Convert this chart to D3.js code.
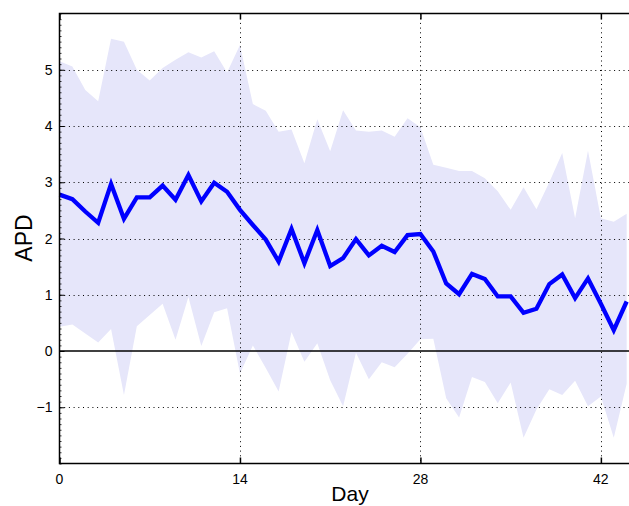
<!DOCTYPE html>
<html>
<head>
<meta charset="utf-8">
<script src="https://cdn.jsdelivr.net/npm/d3@7"></script>
<style>
  body { margin: 0; background: #fff; }
  svg { display: block; }
  text { font-family: "Liberation Sans", Arial, sans-serif; }
</style>
</head>
<body>
<script>
// values, one per day
const days = d3.range(0, 45);
const meanAPD = [2.78, 2.70, 2.48, 2.28, 2.97, 2.35, 2.73, 2.73, 2.94, 2.69,
  3.13, 2.66, 2.99, 2.83, 2.51, 2.24, 1.98, 1.59, 2.17, 1.56,
  2.15, 1.51, 1.65, 1.99, 1.70, 1.87, 1.76, 2.06, 2.08, 1.77,
  1.20, 1.01, 1.37, 1.28, 0.97, 0.97, 0.68, 0.75, 1.19, 1.36,
  0.94, 1.29, 0.84, 0.37, 0.88];
const upperAPD = [5.15, 5.06, 4.64, 4.44, 5.55, 5.50, 5.00, 4.81, 5.03, 5.18,
  5.31, 5.22, 5.33, 4.95, 5.44, 4.39, 4.27, 3.90, 3.94, 3.34,
  4.12, 3.55, 4.28, 3.92, 3.90, 3.92, 3.81, 4.14, 3.98, 3.31,
  3.26, 3.20, 3.20, 3.07, 2.84, 2.51, 2.91, 2.52, 3.00, 3.52,
  2.36, 3.56, 2.36, 2.30, 2.44];
const lowerAPD = [0.43, 0.47, 0.31, 0.15, 0.39, -0.78, 0.44, 0.64, 0.84, 0.20,
  0.96, 0.09, 0.69, 0.76, -0.40, 0.10, -0.30, -0.72, 0.34, -0.19,
  0.14, -0.52, -0.98, -0.03, -0.50, -0.20, -0.29, -0.05, 0.21, 0.22,
  -0.84, -1.18, -0.46, -0.55, -0.93, -0.56, -1.54, -1.04, -0.68, -0.78,
  -0.53, -0.98, -0.81, -1.54, -0.58];
const xTicks = [0, 14, 28, 42];
const yTicks = [-1, 0, 1, 2, 3, 4, 5];

const W = 629, H = 506;
const mLeft = 59.5, mTop = 13.5, mBottom = 463.5;
const pxPerDay = 12.89;

const svg = d3.select("body").append("svg")
  .attr("width", W)
  .attr("height", H);

const x = d3.scaleLinear().domain([0, 45]).range([mLeft, mLeft + 45 * pxPerDay]);
const y = d3.scaleLinear().domain([-2, 6]).range([mBottom, mTop]);
const mRight = x(45);

const plot = svg.append("g");

// band
plot.append("path")
  .datum(days)
  .attr("fill", "#e6e6fa")
  .attr("stroke", "none")
  .attr("d", d3.area()
    .x(d => x(d))
    .y0(d => y(lowerAPD[d]))
    .y1(d => y(upperAPD[d])));

// grid
const dots = "1,3.7";
plot.selectAll("line.vgrid")
  .data(xTicks.filter(d => d > 0))
  .join("line")
  .attr("x1", d => Math.round(x(d)) + 0.5).attr("x2", d => Math.round(x(d)) + 0.5)
  .attr("y1", mTop).attr("y2", mBottom)
  .attr("stroke", "#000").attr("stroke-width", 1)
  .attr("stroke-dasharray", dots);
plot.selectAll("line.hgrid")
  .data(yTicks.filter(d => d !== 0))
  .join("line")
  .attr("x1", mLeft).attr("x2", mRight)
  .attr("y1", d => Math.round(y(d)) + 0.5).attr("y2", d => Math.round(y(d)) + 0.5)
  .attr("stroke", "#000").attr("stroke-width", 1)
  .attr("stroke-dasharray", dots);

// zero line
plot.append("line")
  .attr("x1", mLeft).attr("x2", mRight)
  .attr("y1", y(0)).attr("y2", y(0))
  .attr("stroke", "#000").attr("stroke-width", 1.5);

// mean line
plot.append("path")
  .datum(days)
  .attr("fill", "none")
  .attr("stroke", "#0000ff")
  .attr("stroke-width", 4.3)
  .attr("stroke-linejoin", "miter")
  .attr("d", d3.line().x(d => x(d)).y(d => y(meanAPD[d])));

// frame
svg.append("rect")
  .attr("x", mLeft).attr("y", mTop)
  .attr("width", mRight - mLeft).attr("height", mBottom - mTop)
  .attr("fill", "none").attr("stroke", "#000").attr("stroke-width", 1.5);

// y axis ticks (inward)
const yAxis = svg.append("g")
  .attr("transform", `translate(${mLeft},0)`)
  .call(d3.axisRight(y).tickValues(yTicks).tickSize(5).tickFormat(""));
yAxis.select(".domain").remove();
yAxis.selectAll("line").attr("stroke", "#000");
// minor ticks
const yMinor = svg.append("g")
  .attr("transform", `translate(${mLeft},0)`)
  .call(d3.axisRight(y).tickValues(d3.range(-20, 61).map(d => d / 10)).tickSize(2).tickFormat(""));
yMinor.select(".domain").remove();
yMinor.selectAll("line").attr("stroke", "#000").attr("stroke-width", 0.8);

svg.append("g").selectAll("text")
  .data(yTicks)
  .join("text")
  .attr("x", mLeft - 7)
  .attr("y", d => y(d))
  .attr("dy", "0.36em")
  .attr("text-anchor", "end")
  .attr("font-size", 14)
  .text(d => d < 0 ? "\u2212" + Math.abs(d) : d);

// x axis ticks (inward, top and bottom)
const xAxisB = svg.append("g")
  .attr("transform", `translate(0,${mBottom})`)
  .call(d3.axisTop(x).tickValues(xTicks).tickSize(6).tickFormat(""));
xAxisB.select(".domain").remove();
xAxisB.selectAll("line").attr("stroke", "#000").attr("stroke-width", 1.5);
const xAxisT = svg.append("g")
  .attr("transform", `translate(0,${mTop})`)
  .call(d3.axisBottom(x).tickValues(xTicks).tickSize(6).tickFormat(""));
xAxisT.select(".domain").remove();
xAxisT.selectAll("line").attr("stroke", "#000").attr("stroke-width", 1.5);

svg.append("g").selectAll("text")
  .data(xTicks)
  .join("text")
  .attr("x", d => x(d))
  .attr("y", mBottom + 20)
  .attr("text-anchor", "middle")
  .attr("font-size", 14)
  .text(d => d);

// axis labels
svg.append("text")
  .attr("x", 350).attr("y", 501)
  .attr("text-anchor", "middle")
  .attr("font-size", 21)
  .text("Day");
svg.append("text")
  .attr("transform", "translate(32,238) rotate(-90)")
  .attr("text-anchor", "middle")
  .attr("font-size", 23)
  .text("APD");
</script>
</body>
</html>
